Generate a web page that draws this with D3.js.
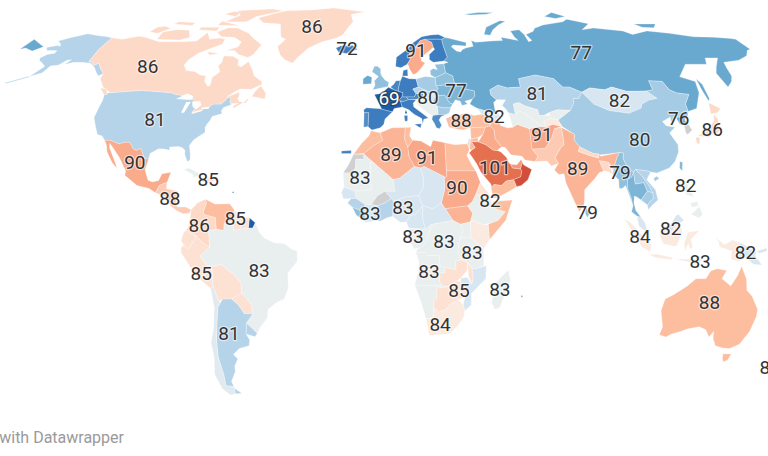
<!DOCTYPE html>
<html><head><meta charset="utf-8">
<script src="https://cdn.jsdelivr.net/npm/d3@7/dist/d3.min.js"></script>
<style>html,body{margin:0;padding:0;background:#fff;overflow:hidden}svg{display:block}</style>
</head><body><svg id="map" width="768" height="456"></svg>
<script>
const NO_DATA = null;
const countryNames = [];
const countryValues = [];
const countryRings = [];
function add(name, value, ...rings){ countryNames.push(name); countryValues.push(value); countryRings.push(rings); }

add("United States",81,
"-124.7,48.4 -123,49 -95.2,49 -94.6,48.7 -92,48.3 -89.5,48 -88.4,48.3 -84.8,46.9 -82.5,45.3 -82.1,43.6 -83.1,42.2 -82.7,41.7 -79,42.8 -79,43.3 -76.8,43.6 -76.3,44.2 -74.9,45 -71.5,45 -70.3,46.2 -69.2,47.4 -68,47.3 -67.8,45.7 -67,44.8 -70,43.8 -70.7,42.7 -70,41.7 -74,40.7 -74.5,39.3 -75.5,38 -76,36.9 -75.6,35.2 -77.9,33.9 -79.9,32.7 -81.4,30.7 -80.5,28 -80.1,25.8 -81.1,25.1 -82.7,27.7 -82.9,29.1 -84.3,30 -86,30.4 -89.5,30.2 -89.3,29.1 -91.5,29.5 -94,29.6 -97.1,28 -97.2,26 -99.2,26.4 -101.4,29.8 -103,29 -104.5,29.6 -106.5,31.8 -108.2,31.8 -111,31.3 -114.8,32.5 -117.1,32.5 -118.5,34 -120.6,34.5 -122.4,37.2 -124.3,40.3 -124.1,44 -124,46.3",
"-141,69.6 -141,60.3 -139,60 -137.5,58.9 -135.5,59.7 -133.5,58 -130,55.9 -131.5,55 -134,56.5 -136,58 -139.5,59.7 -144,60 -148,60 -151.5,59.2 -150,61 -152,60.8 -154,59 -157.5,58.7 -158.5,56.2 -163,54.8 -160,58.5 -162,59.5 -165,60.7 -166,61.7 -164,63 -161,63.5 -161,64.5 -166,64.5 -168,65.7 -164,66.5 -162,66.2 -163.5,67.2 -166.5,68.3 -163,69.5 -156.5,71.3 -150,70.5 -145,70.1",
"-163,55 -172,52.6 -172,52.2 -163,54.5");
add("Canada",86,
"-141,69.6 -135,69 -128,70.2 -124,69.8 -115,68 -108,68 -102,68 -96,68.3 -94,71.8 -90,69 -85,69.5 -82,69 -82,67 -87,65 -91,63.5 -94,61 -94.8,59 -92.5,57 -88,56.5 -85,55.3 -82.3,55.1 -82,53 -80,51.3 -79,51.5 -79,54.5 -76.5,56.5 -78.5,58.7 -77.5,60 -78,62.4 -73.5,62.3 -70,61 -69.5,59 -67.5,58.3 -65,60.3 -62,57.5 -60,55 -56,53 -55.7,52 -60,50.2 -65,50.3 -67,49.4 -70,47.5 -65,49.2 -64.5,47.8 -65,47 -64,46 -61,45.3 -60,46.8 -60.5,47 -61.5,45.8 -65.8,43.5 -66,44.4 -64,45.3 -67,45.2 -67.8,45.7 -68,47.3 -69.2,47.4 -70.3,46.2 -71.5,45 -74.9,45 -76.3,44.2 -79,43.3 -79,42.8 -82.7,41.7 -83.1,42.2 -82.1,43.6 -82.5,45.3 -84.8,46.9 -88.4,48.3 -89.5,48 -92,48.3 -94.6,48.7 -95.2,49 -123,49 -123.5,49.5 -127,51 -130,54 -130,55.9 -133.5,58 -135.5,59.7 -137.5,58.9 -139,60 -141,60.3",
"-80,73.7 -72,71.5 -67,69 -62,66.8 -64,63 -66,61.9 -71,63 -74,64.5 -78,64.5 -73,66 -73,68 -78,69.8 -85,70 -89,72 -85,73.8",
"-117,69 -105,68.7 -101,69.7 -105,72.8 -112,73 -118,72",
"-125,72 -120,71.5 -116,73.5 -120,74.5 -124,74",
"-90,76.5 -78,76.5 -75,79 -62,82 -70,83.1 -90,82 -85,79.5",
"-92,76.7 -80,74.8 -92,74.9",
"-59,47.7 -53,46.8 -53,48.7 -56,51.5 -58,49.5",
"-117,75.5 -106,74.8 -106,76 -116,76.5",
"-95,80 -87,79 -87,81.5 -92,81.5",
"-87,64 -81,63.5 -85,62.8",
"-100,73 -90,72.5 -90,74 -100,74",
"-128,50.7 -125,48.5 -123.5,48.4 -125,50.3");
add("Greenland",86,"-73,78.2 -68,76 -58,75.5 -54,70 -51,69 -53.5,66 -51,63 -48,61 -43.9,59.8 -42,62 -38,65.5 -32,68 -25,69.5 -22,71 -20,74 -18,76.5 -20,80 -12,81.3 -22,82.4 -32,83.6 -45,82.5 -60,82 -66,80.5");
add("Iceland",72,"-24.3,65.5 -22,66.4 -16,66.5 -13.6,65 -18.8,63.4 -22.7,63.9");
add("Russia",77,
"31,69.7 33,69.4 41,67.7 40.5,66.3 34,66.7 33,66 35,64.3 37,64 38,64.8 40,65.5 44,66.2 44,68.5 46,67.8 54,68.3 60,68.5 60,69.8 65,69 68,68.5 67,70 67,72.5 72,73 73,71 73,68 75,68.5 74,71 79,72.3 81,73.6 87,75 100,76.5 104,77.7 113,75.6 106,73 113,73.7 127,72.5 130,71 140,72.5 150,71.5 160,70 170,69.8 178,69.3 180,69 180,65 178,64.6 175,62.5 169,60.8 161,60 160,58 159,55 157.5,53 154.5,51 153,56 155.5,58.3 160,61.7 154,61.7 152,59.3 142,59.3 135,54.7 141,53 140,49 135,43.5 131,42.5 130.7,42.3 131,45 135,48.4 130,48.9 127.5,50 126,53 120,53.3 120,50 117,49.6 113,49.5 108,49.5 102,51 98.5,50 92,50.7 87.8,49.2 83,51 80,51 77,54 71,55 69,55.3 61,54 61,51 55,50.7 51,51.7 47,50 47,48.2 49,46.5 47.5,45.6 47.5,43 48.6,41.8 46.5,41.8 40,43.5 37,45 38.5,46.8 39.7,47.8 40,49.6 35.5,50.4 34,52.3 31.5,52.1 31,55 28,56.2 27.8,59.5 30,60 28,60.5 30,62 29.5,64 29,66.9 29,69",
"-180,69 -175,67.5 -170,66 -173,64.3 -178,65.5 -180,65",
"52,71 55,70.7 58,73 68,76.8 65,77 55,74",
"142,54 143.5,52 143,47 142,46 142,50",
"47,80 56,81 65,81 60,80 50,79.7",
"93,79 100,81 105,79 98,78",
"138,75.5 150,75.5 146,73.8 140,74");
add("Kazakhstan",81,"47,50 51,51.7 55,50.7 61,51 61,54 69,55.3 71,55 77,54 80,51 83,51 87.8,49.2 85.5,47 83,47 82.5,45.4 80,42.8 74.5,43 70.5,42 68,41 66,41 66,43 61,44.3 58.5,45.5 56,45 56,41.3 53,42 52.5,43 51,44.5 53,46.5 49,46.5 47,48.2");
add("Mongolia",82,"87.8,49.2 92,50.7 98.5,50 102,51 108,49.5 113,49.5 117,49.6 120,47 116,46.4 112,45 111,43.6 105,41.8 97,42.7 91,45");
add("China",80,"73.7,39.5 80,42.8 82.5,45.4 83,47 85.5,47 87.8,49.2 91,45 97,42.7 105,41.8 111,43.6 112,45 116,46.4 120,47 117,49.6 120,50 120,53.3 126,53 127.5,50 130,48.9 135,48.4 131,45 130.7,42.3 128,41.5 124.4,40 121.5,38.9 122,40.5 118,39 119,37.5 122.5,37 119.5,35 122,31 121.5,28.5 119,25.2 116,23 110.5,21.3 108,21.6 106.7,22 102,22.5 101,21.5 99,23 98,26 98.5,28.2 97,28.3 92,27.8 89,27.5 86,28 81,30.2 79,32.5 79.5,34.5 74.8,37.3",
"109,18.4 111,19.5 110,20.2 108.7,19.5");
add("Taiwan",78,"120.2,23 121,22 122,25 121,25.2");
add("North Korea",76,"124.4,40 128,41.5 130.7,42.3 129.7,41 127.5,39.5 128.4,38.5 126.7,37.8 125,38");
add("South Korea",NO_DATA,"126.7,37.8 128.4,38.5 129.4,36 127,34.5 126.3,35");
add("Japan",86,"130.9,34 135,35.6 137,37 139.8,39 141.3,41.5 142,39.5 141,36 139.8,35 137,34.5 135.5,33.5 132.5,34","140,41.6 141.5,45.5 145.3,43.5 143,42","130,33.5 131.8,33.5 131,31.2 130,31.5");
add("India",89,"74.5,37 79.5,34.5 79,32.5 81,30.2 80,28.7 84,27.4 88,26.4 88.2,27.9 89,27 92,27.5 97,28.3 95.5,26.5 94,24 93,22 92,24.5 91.5,25 88,25.5 89,22 87,21.4 85,19.5 80.3,15.5 80,13 79.5,10.3 77.5,8 76,11 73,18 72.7,21 70.5,20.8 69,22.3 71,24.5 70,26.5 73,30 74.5,31 74.5,34");
add("Pakistan",87,"74.5,37 74.5,34 74.5,31 73,30 70,26.5 71,24.5 68,23.7 66.5,25.4 61.6,25.2 63,27 61,29.5 66.5,29.8 69.5,33 71.5,36.5");
add("Iran",89,"44.8,39.5 48,39.5 49,37.5 52,36.7 54,37 56,38 61,36.5 61,31.5 61,29.5 63,27 61.6,25.2 57.5,25.7 56.5,27 52,27.5 50,30 48.5,30.3 46,33 46,36 44.5,37.5");
add("Afghanistan",91,"61,36.5 65,37.3 68,37 71,38 74.8,37.3 71.5,36.5 69.5,33 66.5,29.8 61,29.5 61,31.5");
add("Turkmenistan",83,"53,42 56,41.3 58,42.7 61,41 66,37.5 65,37.3 61,36.5 56,38 54,37 53.5,40");
add("Uzbekistan",83,"56,45 58.5,45.5 61,44.3 66,43 66,41 68,41 70.5,41 71,40 67.5,39 68,37 65,37.3 66,37.5 61,41 58,42.7 56,41.3");
add("Kyrgyzstan",83,"70.5,42 74.5,43 80,42.8 73.7,39.5 70,40 71,40 70.5,41");
add("Tajikistan",84,"68,37 71,38 74.8,37.3 73.7,39.5 70,40 67.5,39");
add("Nepal",86,"80,28.7 81,30.2 86,28 88.2,27.9 88,26.4 84,27.4");
add("Bangladesh",86,"88,25.5 91.5,25 92,24.5 92.3,21 90,22 89,22");
add("Sri Lanka",79,"80,9.7 81.8,7.5 80.5,6 79.8,7.5");
add("Myanmar",79,"92.3,21 93,22 94,24 95.5,26.5 97,28.3 98.5,28.2 98,26 99,23 101,21.5 100,20 98,19 97.7,16 98.6,13 99,10 98.5,12 97.6,15 97,17 95.5,16 94.3,16 94.5,19");
add("Thailand",78,"100,20 101,21.5 101,17.5 104.5,18 105.5,15 102.5,12 101,13 100,13.4 99.5,11 100,8.5 102,6 100.3,6.5 98.3,8 99,10 98.6,13 97.7,16 98,19");
add("Laos",80,"101,21.5 102,22.5 104,20.5 106.7,16.5 107.5,14.5 105.5,15 104.5,18 101,17.5");
add("Vietnam",81,"102,22.5 106.7,22 108,21.6 105.8,19 108.8,15.5 109.3,12 107,10.5 105,8.7 104.8,10.3 106,11.5 107.5,12.5 107.5,14.5 106.7,16.5 104,20.5");
add("Cambodia",80,"102.5,12 105.5,15 107.5,14.5 107.5,12.5 106,11.5 104.8,10.3");
add("Malaysia",82,"100.3,6.5 102,6 103.5,4 104.2,1.4 103,1.6 101,3","109.6,2 111,1.5 114,1.3 115.5,3 117.5,4.2 119,5 117,7 116,6.8 113.5,3.5 111,2.8");
add("Indonesia",84,"95.3,5.6 98,4 104,-2 106,-3.5 105.5,-5.8 102,-4 100,-1 97,3","105.3,-6.8 108,-6.5 114.5,-7.7 114.5,-8.5 108,-7.8","109,1 109.6,2 111,1.5 114,1.3 115.5,3 117.5,4.2 118,1 116,-3.8 114.5,-3.8 110.5,-3 109.2,-0.5","119.5,-5.5 120.5,-3 121.5,-4.8 122.5,-4.5 121.5,-1.5 124.8,1.5 120.5,1 119.8,0 118.9,-3","131,-0.8 135,-3.3 138,-1.7 141,-2.6 141,-9.1 138,-8.3 138,-5.5 133,-4 132.7,-2.5","116,-8.3 119,-8.2 123,-8.3 125,-8 127,-8.5 124,-10.2 120,-9");
add("Papua New Guinea",82,"141,-2.6 145,-4.4 148,-6 147.5,-7 150.5,-10.3 147,-10 144,-7.7 141,-9.1","148,-5.5 152,-4.5 152,-5.5 149,-6.3");
add("Philippines",83,"120.5,18.5 122.2,18.4 122,16 124,13 121,13.8 120,16","122,7 125.5,9.8 126.5,7 125,5.8","122,11 125,11.5 125,10 122.5,9.5");
add("Australia",88,"113.5,-26 114,-22 117,-20.5 122,-17.5 125,-15 129,-15 130.5,-12.3 133,-11.6 136.8,-12.2 135.5,-15 139.5,-17.5 141.5,-14 142.5,-10.7 145.3,-15 146.3,-19 149,-21 153,-25.5 153.5,-28 152.5,-33 150,-37.5 146.5,-39 143.5,-38.8 140,-38 138,-35.5 137.5,-33 136,-35 134,-32.5 131,-31.5 126,-32.3 124,-33 120,-34 118,-35 115,-34.3 115.7,-31.5","144.7,-40.8 148.3,-40.9 148,-43 146.5,-43.6 145.5,-42.5");
add("New Zealand",86,"172.7,-34.5 178,-38 175,-41.5 174,-39","172,-41 174,-41.5 169,-46.5 166.5,-46");
add("Saudi Arabia",95,"34.6,28 36,29.2 37.5,30 36,32 39,32 42,31 44.7,29.2 46.5,29 48,28.5 48.5,28 50,26.7 50.8,24.7 51.5,24.3 52,23 55.2,22.7 55.7,22 55,20 52,19 49,18.5 47,17 44,17.3 43,16.5 42.7,17.5 40.5,19.8 39,21.5 37.5,24.5 35,28");
add("Oman",101,"55.2,22.7 56.3,24.9 56.8,24 59.8,22.5 57.8,19 55,17 53,16.6 52,19 55,20 55.7,22");
add("United Arab Emirates",92,"51.5,24.3 54,24.1 56,26 56.3,24.9 55.2,22.7 52,23");
add("Yemen",88,"42.7,16.5 43.3,12.8 45,12.8 50,15 53,16.6 52,19 49,18.5 47,17 44,17.3 43,16.5");
add("Iraq",90,"42.4,37.1 41,34.5 39,32 42,31 44.7,29.2 46.5,29 48,30 48.5,30.3 46,33 46,36 44.5,37.5");
add("Syria",88,"36,36.8 42.4,37.1 41,34.5 38.8,33.4 36,33");
add("Jordan",88,"35,29.4 36,29.2 37.5,30 36,32 39,32 38.8,33.4 36,33 35.6,32.5");
add("Israel",82,"34.3,31.3 35,29.4 35.6,32.5 35.6,33.2 35,33");
add("Turkey",88,"26,40 27,37 30.5,36.3 33,36 36,36.8 42.4,37.1 44.5,37.5 44.8,39.5 43.5,41.1 41.5,41.5 38,41 35,42 31.5,41.2 29,41");
add("Georgia",82,"40,43.5 46.5,41.8 43.5,41.1 41.5,41.5");
add("Azerbaijan",82,"46.5,41.8 48.6,41.8 49.5,40.3 48,39.5 44.8,39.5 43.5,41.1");
add("Morocco",88,"-5.9,35.8 -2,35.1 -1,32.5 -5,30.5 -8.7,28 -13,27.7 -9.8,31.4 -6.8,34");
add("Western Sahara",NO_DATA,"-13,27.7 -8.7,27.7 -8.7,26 -12,26 -12,23.4 -13,21.3 -17,21.3 -15,24");
add("Algeria",89,"-2,35.1 3,36.8 8.6,36.9 8.2,33 9.5,30 9.9,27 12,23.5 6,19.5 3.3,19 -4.9,25 -8.7,27.7 -8.7,28 -5,30.5 -1,32.5");
add("Tunisia",88,"8.6,36.9 11,37 10.3,34 11.5,32.5 9.5,30 8.2,33");
add("Libya",91,"11.5,32.5 15,32.3 19,30.3 20,32.5 25,31.7 25,20 24,19.5 24,20 16,23.5 14.5,23 12,23.5 9.9,27 9.5,30");
add("Egypt",88,"25,31.7 29,31 34.3,31.3 35,29.4 33.8,27.3 35.5,24 37,22 25,22");
add("Sudan",90,"25,22 37,22 38.5,18 36.5,14 35,11.5 33,10 24,9 22.5,11 24,15.5 24,19.5 25,20");
add("South Sudan",89,"24,9 33,10 35,7.5 34,4.5 30,3.7 27,5");
add("Eritrea",85,"36.5,14 38.5,18 43,12.5 42,12.5");
add("Ethiopia",83,"36.5,14 42,12.5 42.8,11 44,9 48,8 45,5 42,4 39,3.5 35,5 34,4.5 35,7.5 33,10 35,11.5");
add("Somalia",88,"43.3,11.5 51,12 48,5 41.5,-1.6 41,3.5 42,4 45,5 48,8 44,9 43,11");
add("Kenya",84,"34,4.5 35,5 39,3.5 41,3.5 41.5,-1.6 39.2,-4.7 34,-1");
add("Uganda",83,"31,1.5 30,3.7 34,4.5 34,-1 30.5,-1 29.5,-1.5");
add("Tanzania",83,"34,-1 39.2,-4.7 39.5,-10.5 37,-11.5 34.8,-11.5 33,-9.5 30.5,-8.5 29,-6 29.5,-1.5 30.5,-1");
add("Mauritania",83,"-17,21.3 -13,21.3 -12,23.4 -12,26 -8.7,26 -8.7,27.7 -4.9,25 -6,25 -5.5,15.5 -12,15 -16.5,16.5");
add("Mali",83,"-4.9,25 3.3,19 4,15 0,15 -3,13.5 -5.5,10.5 -8,10.5 -11.5,12.5 -12,15 -5.5,15.5 -6,25");
add("Niger",82,"3.3,19 6,19.5 12,23.5 14.5,23 15.5,20 15.5,16.5 13.5,13.5 8,13 3.5,11.5 2.5,12.5 0,15 4,15");
add("Chad",82,"14.5,23 16,23.5 24,20 24,19.5 24,15.5 22.5,11 19,9 15,10 13.5,13.5 15.5,16.5 15.5,20");
add("Nigeria",82,"3,6.4 6,4.4 8.5,4.5 10,6.5 12,7 15,10 13.5,13.5 8,13 3.5,11.5");
add("Burkina Faso",NO_DATA,"-5.5,10.5 -3,13.5 0,15 2.5,12.5 0,11 -3,10");
add("Senegal",82,"-16.5,16.5 -12,15 -11.5,12.5 -16.7,12.4 -17.5,14.7");
add("Guinea",81,"-15,11 -13.5,12.5 -11.5,12.5 -8,10.5 -8,8 -10,8.5 -13,9.5");
add("Liberia",79,"-13,9.5 -10,8.5 -8,8 -8,6 -7.5,4.4 -11.5,6.9");
add("Ivory Coast",82,"-8,10.5 -5.5,10.5 -3,10 -3,5 -7.5,4.4 -8,6 -8,8");
add("Ghana",81,"-3,10 0,11 2.5,12.5 3.5,11.5 3,6.4 1,6 -2,4.7 -3,5");
add("Cameroon",82,"8.5,4.5 9.5,2.3 16,2 15,6 15,10 12,7 10,6.5");
add("Central African Republic",82,"15,10 19,9 22.5,11 24,9 27,5 18.5,3.6 16,2 15,6");
add("Gabon",83,"9.5,2.3 9,-1 11.5,-4.7 14,-4.5 16,-3 18,2 18.5,3.6 16,2");
add("DR Congo",83,"18.5,3.6 27,5 30,3.7 31,1.5 29.5,-1.5 29,-6 30.5,-8.5 28,-9 28.5,-12 24,-11 22,-11 21.5,-7 17,-7 16,-6 12.3,-6 13,-4.7 14,-4.5 16,-3 18,2");
add("Angola",83,"12.3,-6 16,-6 17,-7 21.5,-7 22,-11 24,-11 24,-13 22,-13 22,-16 23,-17.5 18.5,-17.4 12,-17.2 13.5,-12 13.5,-9");
add("Zambia",85,"22,-13 24,-13 24,-11 28.5,-12 28,-9 30.5,-8.5 33,-9.5 33,-12 30.5,-14.8 28.9,-15.8 25,-17.8 23,-17.5 22,-16");
add("Malawi",85,"33,-9.5 34.8,-11.5 35.5,-14.5 35,-17 33.5,-14");
add("Mozambique",82,"40.5,-10.5 40.5,-15 35,-20 35.3,-24 32.8,-26 32,-24 32.5,-21 33,-19 30.5,-16 30.5,-14.8 33,-14.5 35,-17 35.5,-14.5 34.8,-11.5 37,-11.5");
add("Zimbabwe",85,"25.3,-17.8 28.9,-15.8 30.5,-16 33,-19 32.5,-21 30,-22.3 26,-19");
add("Namibia",83,"12,-17.2 18.5,-17.4 23,-17.5 25.3,-17.8 21,-18.3 21,-22 20,-22 20,-28.4 17,-28.7 14.5,-22.5");
add("Botswana",85,"21,-18.3 25.3,-17.8 26,-19 30,-22.3 27,-23.5 25,-25.7 22,-26.5 20,-25 20,-22 21,-22");
add("South Africa",84,"17,-28.7 20,-28.4 20,-25 22,-26.5 25,-25.7 27,-23.5 30,-22.3 32,-24 32.8,-26 32.5,-28.5 30,-31.5 27,-33.9 22,-34.2 18.5,-34.5 18,-32");
add("Madagascar",83,"49.3,-12 50.5,-15.5 49.5,-18 47,-25 45,-25.5 43.5,-23 44.5,-16.5");
add("Spain",72,"-9.2,43 -8,43.7 -2,43.4 3.2,42.3 0,39.8 -0.5,38 -2,36.8 -5.5,36 -7.2,37.2 -7,42 -9,42","-18,28 -14,28 -14,29 -18,28.8");
add("Portugal",74,"-9,42 -7,42 -7.2,37.2 -9,37");
add("France",69,"-2,43.4 -1.5,43.4 -4.7,48.4 -1.5,48.7 1.5,50.9 4,50 6,49.5 8,49 7.5,47.5 6,46.3 6.8,46 7.5,44 4,43.5 3.2,42.3","9,43 9.5,42 9,41.5 8.6,42","-54,5.9 -51.6,4.2 -52.5,2.4 -54.3,2.3","55.2,-20.8 55.9,-20.9 55.6,-21.5","-61.4,14.4 -60.7,14.4 -61,15");
add("United Kingdom",79,"-5.5,50 1.4,51.2 1.7,52.7 0,53.5 -1.5,55 -2,56 -2,57.6 -3.5,58.6 -5,58.6 -6,56.5 -3,54.8 -4.8,53.3 -4.5,51.7");
add("Ireland",77,"-10,52 -6.2,52.2 -6,54.5 -8,55.2 -10,54");
add("Norway",72,"5,58.5 7.5,58 10.5,59.3 12,61 12,63.5 14,65 15.5,66.2 18,68.5 21,69 25,69 29,69 31,69.7 28,71 24,70.8 19,70 14,67.5 11,65 5.5,62");
add("Sweden",90,"11,59 10.5,59.3 12,61 12,63.5 14,65 15.5,66.2 18,68.5 20.5,69 23.7,67.8 24,65.8 21,64 17.5,62 17.3,60.5 19,59.8 16.5,57.5 14.5,56 13,55.4 11.5,57.5");
add("Finland",72,"21,69 25,69 29,69 29,66.9 29.5,64 30,62 28,60.5 23,60 21.3,61 21.5,63 24.5,65 24,65.8 23.7,67.8 20.5,69");
add("Denmark",72,"8,55 8.5,57 10.5,57.5 10.5,55");
add("Benelux",73,"2.5,51 4,52 5,53.3 7,53.3 6,50.5 6,49.5 4,50");
add("Germany",72,"6,50.5 7,53.3 8,54.9 11,54 14.2,53.9 15,51 12.5,50.3 13.8,48.7 13,47.5 7.5,47.5 8,49 6,49.5");
add("Switzerland",73,"6,46.3 7.5,47.5 9.5,47.5 10.4,46.6 8,45.9");
add("Austria",73,"9.5,47.5 13,47.5 13.8,48.7 17,48.7 17,48.2 16,46.8 10.4,46.6");
add("Italy",72,"7.5,44 6.8,46 8,45.9 10.4,46.6 13.7,46.5 12.3,45.3 12.5,44 16,41.8 18.5,40.2 16.5,39.7 16,38 15.7,40 12.5,41.5 10.3,43","12.5,38 15.5,38.2 15,36.7","8.2,41 9.7,41 9.6,39.2 8.5,39");
add("Poland",80,"14.2,53.9 18.5,54.8 23,54.4 23,51.5 24,50.6 22.5,49.1 19,49.5 15,51");
add("Czechia and Slovakia",81,"12.5,50.3 15,51 19,49.5 22.5,49.1 22,48.4 17,48.2 17,48.7 13.8,48.7");
add("Hungary",82,"16,46.8 17,48.2 22,48.4 22.5,47.8 21,46 18.5,45.8");
add("Romania",79,"22.5,47.8 26.5,48.2 28.2,45.5 29.5,45 28.5,43.7 25,43.7 22.7,44.2 21,46");
add("Bulgaria",80,"22.7,44.2 25,43.7 28.5,43.7 27.7,42 26,41.3 22.8,41.3");
add("Western Balkans",83,"13.7,46.5 16,46.8 18.5,45.8 21,46 22.7,44.2 22.8,41.3 20.5,41 19.4,41.5 16,43.5 14,45");
add("Greece",74,"20,39.7 20.5,41 22.8,41.3 26,41.3 24,40.7 23,39.5 24,37.7 23,36.5 21.7,36.8 21,38.3");
add("Ukraine",78,"24,50.6 23,51.5 31.5,52.1 34,52.3 35.5,50.4 40,49.6 39.7,47.8 38.5,46.8 35,46 36,45 33.5,44.5 33,46 31,46.5 29.5,45 28.2,45.5 26.5,48.2 22.5,47.8 22,48.4 22.5,49.1");
add("Belarus",79,"23,51.5 23,54.4 26.5,55.6 28,56.2 31,55 31.5,52.1");
add("Baltic states",79,"21,55.3 21,57 22.5,57.7 24.4,57.3 23.5,59.2 27.8,59.5 28,56.2 26.5,55.6 23,54.4");
add("Mexico",90,"-117.1,32.5 -114.8,32.5 -111,31.3 -108.2,31.8 -106.5,31.8 -104.5,29.6 -103,29 -101.4,29.8 -99.2,26.4 -97.2,26 -97.8,22.5 -95.8,18.8 -94,18.2 -91.5,18.7 -90.5,21 -87,21.5 -88,18 -89,17.8 -91,17 -92.2,14.5 -95,16 -100,17 -105.5,20.5 -105.5,22 -109.3,26.5 -112.5,29.5 -114.7,31.5 -114.5,30 -110,24 -109.5,23 -112,25 -115,28.5 -116,31");
add("Central America",87,"-92.2,14.5 -91,17 -89,17.8 -88,18 -88,15.9 -83.2,15 -83.6,11 -82.8,9.6 -79.5,9.6 -77.3,8.7 -78,7.5 -80.5,7.3 -83,8.3 -85.7,10 -87.5,13 -90,13.7");
add("Cuba",83,"-85,21.9 -80,23 -75,20.9 -74.2,20.2 -77.7,19.9 -78,20.8 -82,22.5");
add("Hispaniola",85,"-74.4,18.4 -71.7,19.8 -68.4,18.6 -71.5,17.8");
add("Colombia",86,"-77.3,8.7 -75,11 -72,12.3 -71.3,11 -72.4,8 -72,7 -67.5,6 -67,2 -70,1.3 -69.8,-4.2 -73,-2.3 -75,-0.2 -77,0.4 -79,1.7 -77.5,4 -77.5,7");
add("Venezuela",88,"-71.3,11 -72,12.3 -70,11.5 -68,10.6 -62,10.7 -60,8.5 -61,6 -60.7,5 -64,4 -64,1.5 -67,2 -67.5,6 -72,7 -72.4,8");
add("Guyana",85,"-60,8.5 -57.3,6 -57.5,2 -60,1.5 -60.7,5 -61,6");
add("Suriname",85,"-57.3,6 -54,5.9 -54.3,2.3 -57.5,2");
add("Ecuador",85,"-79,1.7 -77,0.4 -75,-0.2 -75.5,-1.5 -78.5,-5 -80,-3.4 -81,-2 -80,0.7");
add("Peru",85,"-80,-3.4 -78.5,-5 -75.5,-1.5 -75,-0.2 -73,-2.3 -69.8,-4.2 -73.8,-7.3 -70.5,-11 -69,-12.5 -69.5,-17.3 -70.4,-18.4 -76,-14 -81.2,-6 -81.2,-4.5");
add("Bolivia",85,"-69.5,-10.9 -65.5,-10 -60.5,-13.7 -58,-16.5 -58,-20 -62.5,-22 -66,-22 -67.8,-22.8 -69,-19 -69.5,-17.3 -69,-12.5");
add("Paraguay",85,"-58,-20 -62.5,-22 -60,-24 -58,-27 -54.5,-27 -54.5,-24 -56,-22");
add("Brazil",83,"-60.7,5 -60,1.5 -57.5,2 -54.3,2.3 -52.5,2.4 -51.6,4.2 -50,1 -48,-1 -44,-2.7 -40,-3 -37,-5 -35,-5.5 -35,-9 -39,-13 -39,-18 -41,-22 -44,-23 -48,-25.5 -48.7,-28.5 -52.3,-32 -53.5,-33.7 -57.6,-30.2 -54.5,-27 -54.5,-24 -56,-22 -58,-20 -58,-16.5 -60.5,-13.7 -65.5,-10 -69.5,-10.9 -70.5,-11 -73.8,-7.3 -69.8,-4.2 -70,1.3 -67,2 -64,1.5 -64,4");
add("Uruguay",81,"-57.6,-30.2 -53.5,-33.7 -54.5,-34.9 -58.2,-34");
add("Argentina",81,"-66,-22 -62.5,-22 -60,-24 -58,-27 -54.5,-27 -57.6,-30.2 -58.2,-34 -57,-36 -57.6,-38 -62,-39 -65,-41 -63.5,-42.5 -65.5,-45 -66,-47 -69,-50.5 -68.4,-52.3 -72,-52 -71.5,-48 -71.8,-42 -71,-36 -69.8,-30 -68.5,-24.8 -67,-23","-68.6,-52.7 -65.5,-54.8 -68.6,-54.9");
add("Chile",82.5,"-70.4,-18.4 -69.5,-17.3 -69,-19 -67.8,-22.8 -67,-23 -68.5,-24.8 -69.8,-30 -71,-36 -71.8,-42 -71.5,-48 -72,-52 -68.4,-52.3 -68.6,-54.9 -71,-55.3 -74,-53 -75.5,-48 -73.5,-42 -73.5,-37 -71.5,-32 -70,-25");

const lakeNames = ["Superior","Michigan","Huron","Erie","Ontario"];
const lakeRings = [
"-92,46.8 -88,48.7 -85,47.8 -84.7,46.5 -87,46.5",
"-87.8,42 -86.5,42 -85,45.8 -87,45.7",
"-84.5,45.9 -81,46 -80,44.6 -81.7,43.2 -83.5,44",
"-83.4,41.7 -79,42.6 -79,43 -82.5,42.3",
"-79.7,43.2 -76.3,43.4 -76.3,44 -79.2,43.8"];

const labelValues = [86,72,91,77,86,69,80,77,81,82,76,86,82,88,81,80,91,89,91,101,90,89,79,85,83,90,88,82,82,83,83,85,86,79,84,82,83,83,83,83,82,85,83,83,85,83,88,81,84,86];
const labelLons = [-40,-18.8,15.2,96,-111.6,1.8,19,31.8,67.8,103,125.4,138,46.7,32.4,-98.1,106.5,65.9,2.5,17.3,44.9,-102.6,78.6,95.5,-71.5,-10.1,29,-86.2,42,121.3,-6,7.2,-59.6,-73.9,80.6,101.2,113.5,11.1,23.4,34.6,125.7,143.5,-73.7,-50.4,17.6,29.9,46.4,132.4,-65.3,22.9,168.4];
const labelLats = [74.5,65.5,64.7,64,58.6,47.1,47.5,50,49,46.4,40.2,36.4,40.8,39.4,39.8,33,34.7,27.8,26.8,23.3,25,23,21.6,19.2,19.9,16.5,12.7,12,17.2,7.6,9.6,5.8,3.4,7.9,-0.4,2.4,-0.4,-2,-5.8,-8.9,-5.8,-13,-12,-12.4,-18.9,-18.5,-23,-33.6,-30.5,-45.5];

const colorStops = [69,72,77,80,81,82,83,84,85,86,88,89,90,91,95,101];
const colorRange = ["#1c5ca8","#3d7dbf","#69a9d0","#a5cce4","#b5d4e9","#d7e6f0","#e9eeee","#fbeadf","#fde2d4","#fdd9c7","#fdbd9f","#fbb496","#f9ab8c","#f8a788","#e4704f","#d24e3c"];
const color = d3.scaleLinear().domain(colorStops).range(colorRange);

const latKnots = [0,10,20,30,35,40,45,50,55,60,65,70,75,80,85,90];
const widthFactor = [1,.994,.98,.955,.945,.93,.91,.885,.865,.835,.805,.765,.72,.67,.62,.57];
const heightFactor = [0,.124,.248,.372,.434,.4958,.5571,.6176,.6769,.7346,.7903,.8435,.8936,.9394,.9761,1];
const widthAt = d3.scaleLinear().domain(latKnots).range(widthFactor);
const heightAt = d3.scaleLinear().domain(latKnots).range(heightFactor);
const raw = (lam, phi) => {
  const deg = Math.abs(phi) * 180 / Math.PI;
  return [lam * widthAt(deg), Math.sign(phi) * heightAt(deg) * 1.6274];
};
const projection = d3.geoProjection(raw).scale(144.4).translate([385,235]);
const path = d3.geoPath(projection);

function ring(s){
  const pts = s.trim().split(/\s+/).map(p => p.split(",").map(Number));
  pts.push(pts[0].slice());
  if (d3.geoArea({type:"Polygon",coordinates:[pts]}) > 2*Math.PI) pts.reverse();
  return [pts];
}
const features = countryNames.map((n,i) => ({type:"Feature",properties:{name:n,value:countryValues[i]},
  geometry:{type:"MultiPolygon",coordinates:countryRings[i].map(ring)}}));
const lakes = lakeNames.map((n,i) => ({type:"Feature",properties:{name:n},geometry:{type:"Polygon",coordinates:ring(lakeRings[i])}}));

const svg = d3.select("#map");
svg.append("g").selectAll("path").data(features).join("path")
  .attr("d",path)
  .attr("fill",d => d.properties.value===null ? "#d0d0d0" : color(d.properties.value))
  .attr("stroke","#fff").attr("stroke-opacity",.55).attr("stroke-width",.5).attr("stroke-linejoin","round");
svg.append("g").selectAll("path").data(lakes).join("path").attr("d",path).attr("fill","#fff");

svg.append("g").selectAll("text").data(labelValues).join("text")
  .attr("x",(d,i)=>projection([labelLons[i],labelLats[i]])[0])
  .attr("y",(d,i)=>projection([labelLons[i],labelLats[i]])[1])
  .attr("text-anchor","middle").attr("dy","0.36em")
  .attr("font-family","Roboto, sans-serif").attr("font-size",19)
  .attr("paint-order","stroke").attr("stroke-linejoin","round")
  .attr("stroke",d=>d<70?"rgba(50,50,50,.6)":"rgba(255,255,255,.55)").attr("stroke-width",2.5)
  .attr("fill",d=>d<70?"#fff":"#333").text(d=>d);

svg.append("text").attr("x",124).attr("y",443).attr("text-anchor","end")
  .attr("font-family","Roboto, sans-serif").attr("font-size",16).attr("fill","#9a9a9a")
  .text("Created with Datawrapper");
</script></body></html>
